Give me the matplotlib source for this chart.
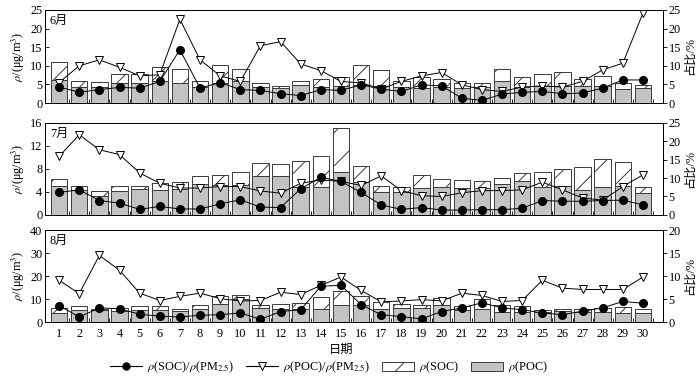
import numpy as np
import matplotlib
matplotlib.use("Agg")
import matplotlib.pyplot as plt
from matplotlib.lines import Line2D
from matplotlib.patches import Patch

plt.rcParams['font.family'] = ['Liberation Serif', 'Noto Sans CJK SC']
plt.rcParams['mathtext.fontset'] = 'stix'
plt.rcParams['hatch.linewidth'] = 0.7

days = np.arange(1, 31)

# 6月
poc_jun = [6.2, 4.3, 4.3, 5.5, 5.4, 6.0, 5.4, 4.3, 5.5, 6.0, 4.3, 4.0, 4.9, 4.3, 4.5,
           4.9, 4.6, 4.3, 4.0, 4.3, 4.0, 4.3, 5.8, 4.3, 4.6, 4.6, 4.5, 4.6, 3.8, 4.0]
soc_jun = [4.9, 1.7, 1.3, 2.4, 2.5, 3.8, 3.7, 1.5, 4.6, 3.1, 1.2, 0.6, 1.1, 2.1, 2.5,
           5.2, 4.3, 1.5, 3.0, 2.1, 1.4, 1.1, 3.3, 2.6, 3.2, 3.7, 2.0, 2.7, 1.6, 0.9]
r_poc_jun = [5.5, 10.0, 11.6, 9.6, 7.3, 7.6, 22.5, 11.6, 7.3, 5.8, 15.4, 16.5, 10.5, 8.7, 5.8,
             5.4, 3.8, 5.8, 7.3, 8.2, 4.9, 3.6, 3.1, 4.3, 4.6, 4.3, 5.8, 8.9, 10.7, 24.2]
r_soc_jun = [4.3, 2.9, 3.6, 4.2, 4.0, 5.8, 14.3, 4.0, 5.5, 3.6, 3.4, 2.5, 2.0, 3.6, 3.4,
             4.9, 3.75, 3.1, 4.9, 4.6, 1.3, 0.7, 2.4, 2.9, 3.1, 2.5, 2.7, 4.0, 6.2, 6.2]

# 7月
poc_jul = [5.0, 4.4, 3.3, 4.1, 4.5, 4.4, 4.5, 5.4, 5.2, 5.2, 6.8, 6.7, 4.9, 4.8, 7.4,
           5.8, 3.9, 3.9, 4.7, 4.8, 4.7, 4.7, 5.3, 5.9, 4.9, 5.1, 4.4, 4.9, 5.1, 3.8]
soc_jul = [1.2, 0.7, 0.8, 1.0, 0.6, 1.1, 1.2, 1.3, 1.8, 2.2, 2.2, 2.1, 4.4, 5.4, 7.7,
           2.7, 1.2, 1.0, 2.3, 1.5, 1.4, 1.2, 1.1, 1.4, 2.6, 2.8, 4.0, 4.8, 4.1, 1.0]
r_poc_jul = [15.9, 21.8, 17.7, 16.4, 11.4, 8.6, 7.3, 7.3, 7.7, 7.7, 6.5, 5.9, 8.6, 9.5, 9.1,
             8.0, 10.6, 6.6, 5.2, 5.0, 6.0, 6.6, 6.6, 6.8, 8.9, 6.8, 4.6, 4.0, 7.7, 10.9]
r_soc_jul = [6.1, 6.8, 3.9, 3.2, 1.5, 2.3, 1.6, 1.6, 3.0, 4.1, 2.1, 2.0, 7.1, 10.2, 9.1,
             6.1, 2.7, 1.5, 2.0, 1.3, 1.3, 1.4, 1.4, 1.8, 3.9, 3.7, 3.7, 3.9, 4.0, 2.7]

# 8月
poc_aug = [4.1, 5.4, 5.1, 4.8, 5.1, 5.1, 4.7, 5.8, 8.0, 10.0, 6.3, 5.8, 5.8, 5.8, 7.6,
           7.3, 5.8, 6.3, 6.3, 7.3, 5.1, 5.8, 4.4, 4.4, 4.4, 4.8, 4.4, 4.4, 4.1, 4.1]
soc_aug = [2.0, 1.4, 0.7, 1.3, 1.7, 1.7, 1.1, 1.5, 3.2, 2.0, 1.3, 1.9, 2.5, 5.1, 5.9,
           3.9, 2.9, 1.4, 1.0, 3.3, 1.7, 4.1, 2.9, 2.6, 0.7, 1.0, 1.4, 1.9, 2.4, 1.7]
r_poc_aug = [9.1, 6.2, 14.5, 11.3, 6.3, 4.7, 5.6, 6.3, 5.1, 4.6, 4.7, 6.5, 6.0, 8.0, 9.8,
             6.9, 4.4, 4.6, 4.9, 4.6, 6.3, 5.8, 4.5, 4.7, 9.1, 7.4, 7.1, 7.1, 7.1, 9.8]
r_soc_aug = [3.6, 1.1, 3.1, 2.9, 1.7, 1.3, 1.1, 1.5, 1.6, 2.0, 0.6, 2.3, 2.7, 7.8, 8.0,
             3.8, 1.6, 1.2, 0.7, 2.3, 3.1, 4.2, 3.1, 2.7, 2.0, 1.6, 2.4, 3.1, 4.5, 4.1]

months = ['6月', '7月', '8月']
left_lim = [(25, 5), (16, 4), (40, 10)]
right_lim = [(25, 5), (25, 5), (20, 5)]
panels = [(poc_jun, soc_jun, r_soc_jun, r_poc_jun),
          (poc_jul, soc_jul, r_soc_jul, r_poc_jul),
          (poc_aug, soc_aug, r_soc_aug, r_poc_aug)]

gray = '#c3c3c3'
edge = '#3a3a3a'
fs = 8.8

fig = plt.figure(figsize=(7, 3.83), dpi=100)
rects = [[0.0643, 0.731, 0.883, 0.243],
         [0.0643, 0.439, 0.883, 0.240],
         [0.0643, 0.159, 0.883, 0.240]]

for k in range(3):
    poc, soc, rs, rp = panels[k]
    ax = fig.add_axes(rects[k])
    ax.bar(days, poc, width=0.82, color=gray, edgecolor=edge, linewidth=0.7)
    ax.bar(days, soc, width=0.82, bottom=poc, color='white', edgecolor=edge,
           linewidth=0.7, hatch='/')
    top, step = left_lim[k]
    ax.set_ylim(0, top)
    ax.set_yticks(np.arange(0, top + 0.1, step))
    ax.set_xlim(0.3, 31)
    ax.set_xticks(days)
    ax.set_xticks(np.arange(1.5, 31, 1), minor=True)
    ax.tick_params(axis='x', which='major', length=0, labelsize=fs, pad=4)
    ax.tick_params(axis='x', which='minor', direction='in', length=3, width=0.6)
    ax.tick_params(axis='y', direction='in', length=3, width=0.6, labelsize=fs, pad=2)
    if k < 2:
        ax.tick_params(axis='x', labelbottom=False)
    ax.set_ylabel(r'$\rho$/(μg/m$^3$)', fontsize=fs, labelpad=2)
    ax.text(0.008, 0.95, months[k], transform=ax.transAxes, ha='left', va='top',
            fontsize=fs)
    for s in ax.spines.values():
        s.set_linewidth(0.7)

    ax2 = ax.twinx()
    ax2.plot(days, rp, color='black', lw=0.7, marker='v', ms=6,
             mfc='white', mec='black', mew=0.7)
    ax2.plot(days, rs, color='black', lw=0.7, marker='o', ms=5.5,
             mfc='black', mec='black')
    rtop, rstep = right_lim[k]
    ax2.set_ylim(0, rtop)
    ax2.set_yticks(np.arange(0, rtop + 0.1, rstep))
    ax2.tick_params(axis='y', direction='out', length=3, width=0.6, labelsize=fs, pad=1)
    ax2.set_ylabel('占比/%', fontsize=fs, labelpad=2)
    for s in ax2.spines.values():
        s.set_linewidth(0.7)
    if k == 2:
        ax.set_xlabel('日期', fontsize=fs, labelpad=4)
        ax.xaxis.set_label_coords(0.479, -0.24)

handles = [Line2D([], [], color='black', lw=0.8, marker='o', ms=5, mfc='black'),
           Line2D([], [], color='black', lw=0.8, marker='v', ms=6, mfc='white', mew=0.7),
           Patch(facecolor='white', edgecolor=edge, hatch='/', linewidth=0.7),
           Patch(facecolor=gray, edgecolor=edge, linewidth=0.7)]
labels = [r'$\rho$(SOC)/$\rho$(PM$_{2.5}$)', r'$\rho$(POC)/$\rho$(PM$_{2.5}$)',
          r'$\rho$(SOC)', r'$\rho$(POC)']
fig.legend(handles, labels, loc='center', bbox_to_anchor=(0.47, 0.04), ncol=4,
           frameon=False, fontsize=fs, handlelength=2.6, handletextpad=0.4,
           columnspacing=1.0, borderpad=0.2)

fig.savefig('out.png', dpi=100)
